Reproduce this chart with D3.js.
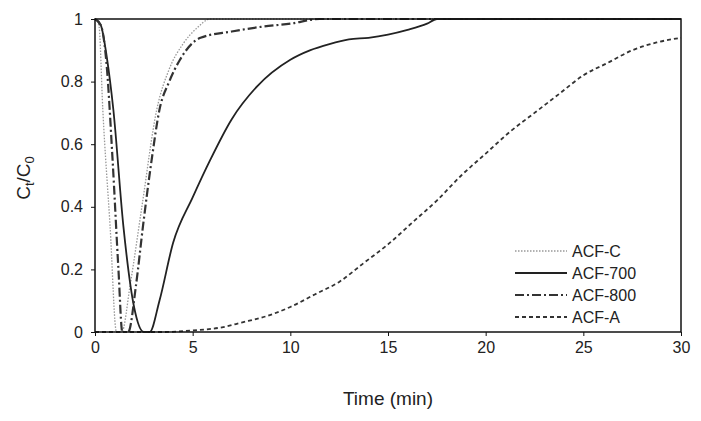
<!DOCTYPE html><html><head><meta charset="utf-8"><script src="https://cdn.jsdelivr.net/npm/d3@7"></script>
<style>body{margin:0;background:#fff}text{font-family:"Liberation Sans",Arial,sans-serif;fill:#222}</style></head><body>
<svg id="c" width="701" height="421"></svg>
<script>
const xTicks=[0,5,10,15,20,25,30];
const yTicks=[0,0.2,0.4,0.6,0.8,1];
const seriesNames=["ACF-C","ACF-700","ACF-800","ACF-A"];
const acfC=[[0,1],[0.2,0.98],[0.4,0.71],[0.77,0.34],[1.1,0],[1.37,0],[1.8,0.15],[2.4,0.4],[3.16,0.71],[3.8,0.84],[4.5,0.92],[5.2,0.97],[5.9,1],[30,1]];
const acf700=[[0,1],[0.3,0.98],[0.6,0.88],[0.94,0.71],[1.45,0.34],[2.0,0.08],[2.5,0],[2.8,0],[3.3,0.1],[4.0,0.285],[5.0,0.43],[5.9,0.55],[7.0,0.68],[8.3,0.785],[10,0.87],[11,0.9],[12,0.92],[13,0.935],[14,0.94],[15,0.95],[16,0.965],[17,0.985],[17.5,1],[30,1]];
const acf800=[[0,1],[0.3,0.98],[0.6,0.85],[0.9,0.55],[1.2,0.2],[1.4,0],[1.7,0],[2.1,0.15],[2.46,0.34],[2.9,0.55],[3.3,0.71],[3.8,0.8],[4.35,0.87],[5.4,0.94],[7,0.96],[8.5,0.975],[10,0.985],[11.5,1],[30,1]];
const acfA=[[0,0],[3.5,0],[5,0.005],[6.5,0.015],[7.5,0.03],[8.75,0.05],[10,0.08],[11.25,0.12],[12.5,0.16],[13.75,0.22],[15,0.28],[16.25,0.35],[17.5,0.42],[18.75,0.5],[20,0.57],[21.25,0.64],[22.5,0.7],[23.75,0.76],[25,0.82],[26.25,0.86],[27.5,0.9],[28.75,0.925],[30,0.94]];
const data=[acfC,acf700,acf800,acfA];
const styles=[{c:"#999",w:1.3,d:"1.5,1.5"},{c:"#222",w:1.8,d:null},{c:"#333",w:2.2,d:"9,3,2,3"},{c:"#333",w:1.8,d:"4,3"}];
const svg=d3.select("#c");
const L=95,R=681,T=19,B=332;
const x=d3.scaleLinear().domain([0,30]).range([L,R]);
const y=d3.scaleLinear().domain([0,1]).range([B,T]);
const line=d3.line().x(d=>x(d[0])).y(d=>y(d[1])).curve(d3.curveMonotoneX);
data.forEach((s,i)=>svg.append("path").attr("d",line(s)).attr("fill","none").attr("stroke",styles[i].c).attr("stroke-width",styles[i].w).attr("stroke-dasharray",styles[i].d));
svg.append("rect").attr("x",L).attr("y",T).attr("width",R-L).attr("height",B-T).attr("fill","none").attr("stroke","#111").attr("stroke-width",1.5);
const xa=svg.append("g").attr("transform",`translate(0,${B})`).call(d3.axisBottom(x).tickValues(xTicks).tickFormat(d3.format("d")).tickSize(4).tickPadding(6));
const ya=svg.append("g").attr("transform",`translate(${L},0)`).call(d3.axisLeft(y).tickValues(yTicks).tickFormat(d=>d===0||d===1?d:d3.format(".1f")(d)).tickSize(4).tickPadding(8));
[xa,ya].forEach(a=>{a.select(".domain").remove();a.selectAll("text").style("font-size","16px").attr("fill","#222");a.selectAll("line").attr("stroke","#111");});
svg.append("text").attr("x",388).attr("y",405).attr("text-anchor","middle").style("font-size","19px").text("Time (min)");
const yl=svg.append("text").attr("transform","translate(30,178) rotate(-90)").attr("text-anchor","middle").style("font-size","19px");
yl.append("tspan").text("C");yl.append("tspan").attr("dy",4).style("font-size","13px").text("t");
yl.append("tspan").attr("dy",-4).text("/C");yl.append("tspan").attr("dy",4).style("font-size","13px").text("0");
const lg=svg.append("g");
seriesNames.forEach((n,i)=>{const yy=251+i*22;
 lg.append("line").attr("x1",515).attr("x2",567).attr("y1",yy).attr("y2",yy).attr("stroke",styles[i].c).attr("stroke-width",styles[i].w).attr("stroke-dasharray",styles[i].d);
 lg.append("text").attr("x",572).attr("y",yy+6).style("font-size","16px").text(n);});
</script></body></html>
